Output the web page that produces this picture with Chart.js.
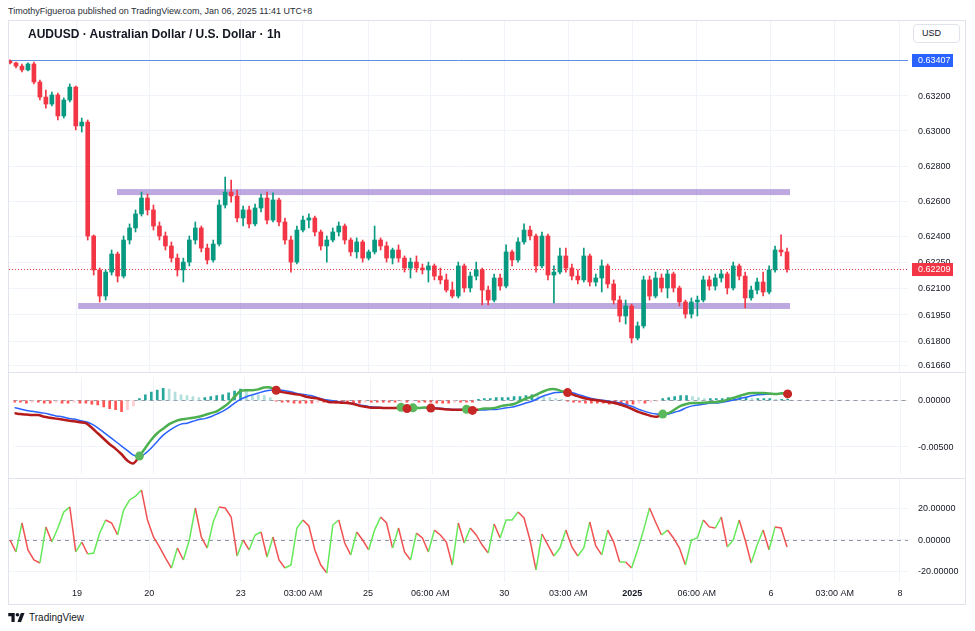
<!DOCTYPE html>
<html>
<head>
<meta charset="utf-8">
<title>AUDUSD 1h</title>
<script src="https://cdn.jsdelivr.net/npm/chart.js@4.4.1/dist/chart.umd.min.js"></script>
<style>
html,body{margin:0;padding:0;background:#fff;}
body{width:975px;height:631px;position:relative;overflow:hidden;font-family:"Liberation Sans",Arial,sans-serif;color:#131722;}
#hdr{position:absolute;left:8px;top:6px;font-size:9px;color:#2a2e39;white-space:nowrap;}
#frame{position:absolute;left:8px;top:20px;width:958px;height:585px;border:1px solid #e0e3eb;box-sizing:border-box;}
.sep{position:absolute;left:9px;width:956px;height:1px;background:#e0e3eb;}
canvas{position:absolute;left:9px;}
#title{position:absolute;left:28px;top:27px;font-size:12px;font-weight:bold;white-space:nowrap;z-index:2;color:#131722;}
#usd{position:absolute;left:913px;top:24px;width:47px;height:19px;border:1px solid #e0e3eb;border-radius:4px;box-sizing:border-box;font-size:9px;line-height:17px;padding-left:8px;z-index:2;background:#fff;}
#logo{position:absolute;left:8px;top:610px;height:14px;display:flex;align-items:center;font-size:10px;color:#131722;}
#logo svg{margin-right:4px;}
</style>
</head>
<body>
<div id="hdr">TimothyFigueroa published on TradingView.com, Jan 06, 2025 11:41 UTC+8</div>
<div id="frame"></div>
<canvas id="cMain" width="956" height="351" style="top:21px"></canvas>
<div class="sep" style="top:372px"></div>
<canvas id="cMacd" width="956" height="105" style="top:373px"></canvas>
<div class="sep" style="top:478px"></div>
<canvas id="cOsc" width="956" height="125" style="top:479px"></canvas>
<div id="title">AUDUSD · Australian Dollar / U.S. Dollar · 1h</div>
<div id="usd">USD</div>
<div id="logo"><svg width="17" height="11" viewBox="0 0 36 24"><path d="M14 22H7V9H0V2h14v20zM28 22h-8l7.5-20h8L28 22z" fill="#131722"/><circle cx="20" cy="6" r="4" fill="#131722"/></svg>TradingView</div>
<script>
// ---------- price candles (one per bar) ----------
const opens = [0.63400,0.63389,0.63371,0.63349,0.63383,0.63280,0.63194,0.63154,0.63206,0.63086,
0.63177,0.63251,0.63029,0.63051,0.62400,0.62206,0.62057,0.62194,0.62297,0.62171,
0.62377,0.62446,0.62526,0.62617,0.62549,0.62457,0.62400,0.62343,0.62274,0.62206,
0.62251,0.62377,0.62446,0.62331,0.62263,0.62354,0.62577,0.62651,0.62629,0.62503,
0.62549,0.62469,0.62560,0.62617,0.62491,0.62606,0.62480,0.62377,0.62251,0.62434,
0.62491,0.62503,0.62423,0.62343,0.62377,0.62423,0.62457,0.62377,0.62309,0.62366,
0.62274,0.62309,0.62377,0.62343,0.62274,0.62320,0.62274,0.62217,0.62251,0.62217,
0.62206,0.62229,0.62171,0.62149,0.62091,0.62057,0.62229,0.62103,0.62171,0.62206,
0.62091,0.62034,0.62160,0.62114,0.62309,0.62263,0.62366,0.62434,0.62400,0.62229,
0.62400,0.62177,0.62194,0.62286,0.62217,0.62171,0.62149,0.62286,0.62137,0.62160,
0.62229,0.62126,0.62034,0.61943,0.62000,0.61817,0.61886,0.62149,0.62057,0.62160,
0.62103,0.62183,0.62103,0.62023,0.61954,0.62023,0.62034,0.62149,0.62114,0.62160,
0.62183,0.62103,0.62229,0.62171,0.62046,0.62091,0.62137,0.62080,0.62206,0.62320,
0.62309];
const highs = [0.63407,0.63394,0.63383,0.63389,0.63394,0.63291,0.63234,0.63223,0.63217,0.63189,
0.63269,0.63257,0.63074,0.63063,0.62406,0.62217,0.62206,0.62320,0.62309,0.62400,
0.62469,0.62549,0.62651,0.62640,0.62577,0.62480,0.62423,0.62366,0.62297,0.62274,
0.62400,0.62480,0.62457,0.62354,0.62377,0.62606,0.62737,0.62720,0.62663,0.62571,
0.62571,0.62583,0.62640,0.62651,0.62646,0.62617,0.62503,0.62400,0.62457,0.62514,
0.62526,0.62514,0.62434,0.62400,0.62446,0.62480,0.62469,0.62389,0.62389,0.62377,
0.62320,0.62457,0.62389,0.62366,0.62331,0.62349,0.62286,0.62274,0.62286,0.62240,
0.62251,0.62240,0.62217,0.62183,0.62137,0.62251,0.62240,0.62194,0.62251,0.62217,
0.62114,0.62183,0.62183,0.62349,0.62320,0.62389,0.62469,0.62457,0.62411,0.62423,
0.62411,0.62229,0.62331,0.62331,0.62240,0.62206,0.62331,0.62297,0.62183,0.62263,
0.62240,0.62149,0.62057,0.62034,0.62011,0.61909,0.62171,0.62171,0.62194,0.62183,
0.62206,0.62194,0.62114,0.62034,0.62046,0.62057,0.62171,0.62171,0.62183,0.62206,
0.62194,0.62251,0.62240,0.62194,0.62114,0.62160,0.62194,0.62229,0.62343,0.62406,
0.62331];
const lows = [0.63383,0.63360,0.63337,0.63343,0.63269,0.63177,0.63131,0.63143,0.63063,0.63074,
0.63166,0.63006,0.62994,0.62377,0.62177,0.62023,0.62034,0.62177,0.62137,0.62160,
0.62354,0.62423,0.62514,0.62520,0.62434,0.62377,0.62320,0.62251,0.62171,0.62137,
0.62229,0.62354,0.62309,0.62240,0.62251,0.62343,0.62560,0.62594,0.62480,0.62457,
0.62446,0.62457,0.62537,0.62469,0.62480,0.62457,0.62354,0.62194,0.62240,0.62423,
0.62446,0.62400,0.62320,0.62251,0.62366,0.62400,0.62354,0.62286,0.62274,0.62251,
0.62263,0.62297,0.62320,0.62251,0.62240,0.62251,0.62194,0.62160,0.62194,0.62183,
0.62137,0.62149,0.62126,0.62080,0.62046,0.62046,0.62080,0.62080,0.62149,0.62006,
0.62006,0.62023,0.62091,0.62103,0.62229,0.62251,0.62354,0.62377,0.62194,0.62217,
0.62149,0.62017,0.62183,0.62194,0.62149,0.62126,0.62137,0.62114,0.62114,0.62080,
0.62103,0.62011,0.61909,0.61897,0.61789,0.61806,0.61874,0.62034,0.62046,0.62080,
0.62046,0.62080,0.62000,0.61931,0.61931,0.61943,0.62023,0.62091,0.62091,0.62137,
0.62069,0.62091,0.62149,0.61989,0.62034,0.62069,0.62057,0.62069,0.62194,0.62286,
0.62194];
const closes = [0.63389,0.63371,0.63349,0.63383,0.63280,0.63194,0.63154,0.63206,0.63086,0.63177,
0.63251,0.63029,0.63051,0.62400,0.62206,0.62057,0.62194,0.62297,0.62171,0.62377,
0.62446,0.62526,0.62617,0.62549,0.62457,0.62400,0.62343,0.62274,0.62206,0.62251,
0.62377,0.62446,0.62331,0.62263,0.62354,0.62577,0.62651,0.62629,0.62503,0.62549,
0.62469,0.62560,0.62617,0.62491,0.62606,0.62480,0.62377,0.62251,0.62434,0.62491,
0.62503,0.62423,0.62343,0.62377,0.62423,0.62457,0.62377,0.62309,0.62366,0.62274,
0.62309,0.62377,0.62343,0.62274,0.62320,0.62274,0.62217,0.62251,0.62217,0.62206,
0.62229,0.62171,0.62149,0.62091,0.62057,0.62229,0.62103,0.62171,0.62206,0.62091,
0.62034,0.62160,0.62114,0.62309,0.62263,0.62366,0.62434,0.62400,0.62229,0.62400,
0.62177,0.62194,0.62286,0.62217,0.62171,0.62149,0.62286,0.62137,0.62160,0.62229,
0.62126,0.62034,0.61943,0.62000,0.61817,0.61886,0.62149,0.62057,0.62160,0.62103,
0.62183,0.62103,0.62023,0.61954,0.62023,0.62034,0.62149,0.62114,0.62160,0.62183,
0.62103,0.62229,0.62171,0.62046,0.62091,0.62137,0.62080,0.62206,0.62320,0.62309,
0.62209];

// ---------- MACD pane ----------
const macdLine = [-0.00137,-0.00147,-0.00152,-0.00157,-0.00157,-0.00176,-0.00186,-0.00196,-0.00206,-0.00216,
-0.00225,-0.00235,-0.00245,-0.00294,-0.00353,-0.00412,-0.00471,-0.00520,-0.00578,-0.00647,
-0.00676,-0.00598,-0.00510,-0.00422,-0.00353,-0.00304,-0.00255,-0.00225,-0.00206,-0.00196,
-0.00186,-0.00176,-0.00157,-0.00137,-0.00118,-0.00078,-0.00029,0.00039,0.00098,0.00108,
0.00108,0.00118,0.00137,0.00137,0.00108,0.00088,0.00078,0.00069,0.00059,0.00039,
0.00029,0.00020,0.00000,-0.00020,-0.00020,-0.00025,-0.00029,-0.00039,-0.00059,-0.00069,
-0.00078,-0.00078,-0.00081,-0.00081,-0.00082,-0.00075,-0.00088,-0.00080,-0.00081,-0.00076,
-0.00083,-0.00088,-0.00093,-0.00098,-0.00101,-0.00101,-0.00096,-0.00108,-0.00098,-0.00088,
-0.00088,-0.00078,-0.00059,-0.00049,-0.00039,-0.00010,0.00020,0.00039,0.00069,0.00098,
0.00118,0.00118,0.00098,0.00083,0.00059,0.00039,0.00020,0.00010,0.00000,-0.00010,
-0.00020,-0.00029,-0.00049,-0.00069,-0.00098,-0.00127,-0.00147,-0.00167,-0.00176,-0.00147,
-0.00137,-0.00098,-0.00059,-0.00039,-0.00029,-0.00029,-0.00025,-0.00020,-0.00020,-0.00010,
0.00010,0.00029,0.00049,0.00069,0.00078,0.00078,0.00078,0.00074,0.00069,0.00075,
0.00069];
const signalLine = [-0.00078,-0.00093,-0.00108,-0.00118,-0.00127,-0.00137,-0.00152,-0.00167,-0.00176,-0.00191,
-0.00201,-0.00216,-0.00230,-0.00255,-0.00294,-0.00343,-0.00392,-0.00441,-0.00490,-0.00539,
-0.00588,-0.00608,-0.00569,-0.00510,-0.00441,-0.00373,-0.00324,-0.00284,-0.00255,-0.00245,
-0.00225,-0.00206,-0.00196,-0.00176,-0.00147,-0.00118,-0.00078,-0.00029,0.00010,0.00039,
0.00059,0.00078,0.00098,0.00108,0.00113,0.00108,0.00098,0.00083,0.00069,0.00059,
0.00049,0.00029,0.00010,0.00000,-0.00010,-0.00020,-0.00025,-0.00034,-0.00049,-0.00059,
-0.00069,-0.00074,-0.00078,-0.00078,-0.00078,-0.00078,-0.00083,-0.00083,-0.00083,-0.00078,
-0.00078,-0.00083,-0.00088,-0.00093,-0.00098,-0.00098,-0.00098,-0.00103,-0.00103,-0.00103,
-0.00098,-0.00098,-0.00088,-0.00078,-0.00069,-0.00049,-0.00029,-0.00010,0.00020,0.00049,
0.00069,0.00083,0.00088,0.00088,0.00078,0.00059,0.00039,0.00020,0.00010,0.00000,
-0.00010,-0.00020,-0.00029,-0.00049,-0.00069,-0.00098,-0.00118,-0.00137,-0.00147,-0.00152,
-0.00147,-0.00127,-0.00108,-0.00078,-0.00059,-0.00049,-0.00039,-0.00029,-0.00029,-0.00020,
-0.00010,0.00005,0.00020,0.00034,0.00049,0.00059,0.00064,0.00069,0.00067,0.00073,
0.00078];
const macdHist = [-0.0002,-0.0002,-0.0003,-0.0002,-0.0002,-0.0003,-0.0003,-0.0002,-0.0003,-0.0003,
-0.0002,-0.0003,-0.0003,-0.0004,-0.0005,-0.0007,-0.0009,-0.0010,-0.0012,-0.0010,
-0.0006,0.0002,0.0006,0.0009,0.0011,0.0013,0.0012,0.0009,0.0006,0.0005,
0.0004,0.0003,0.0003,0.0004,0.0005,0.0006,0.0008,0.0010,0.0012,0.0010,
0.0007,0.0006,0.0005,0.0003,-0.0001,-0.0002,-0.0002,-0.0003,-0.0003,-0.0003,
-0.0003,-0.0002,-0.0002,-0.0002,-0.0003,-0.0003,-0.0003,-0.0003,-0.0003,-0.0002,
-0.0002,-0.0002,-0.0002,-0.0002,-0.0002,-0.0001,-0.0002,-0.0001,-0.0002,-0.0002,
-0.0002,-0.0003,-0.0003,-0.0003,-0.0002,-0.0002,-0.0002,-0.0002,0.0001,0.0002,
0.0002,0.0003,0.0003,0.0003,0.0004,0.0004,0.0005,0.0006,0.0005,0.0004,
0.0003,0.0002,0.0001,-0.0001,-0.0002,-0.0002,-0.0003,-0.0003,-0.0003,-0.0003,
-0.0004,-0.0004,-0.0004,-0.0004,-0.0004,-0.0003,-0.0003,-0.0002,-0.0001,0.0002,
0.0003,0.0004,0.0005,0.0005,0.0004,0.0003,0.0002,0.0002,0.0002,0.0002,
0.0003,0.0003,0.0003,0.0003,0.0002,0.0002,0.0002,0.0002,0.0001,0.0001,
0.0001];
const crossUp = [21, 65, 67, 76, 109];
const crossDown = [44, 66, 70, 77, 93, 130];

// ---------- oscillator pane ----------
const oscValues = [0,-7.6,10.8,-6.3,-12.7,-14.6,8.3,-1.3,7.6,17.8,
21.0,-7.6,-1.3,-8.9,-8.3,4.4,12.7,10.8,3.2,19.0,
25.4,27.9,31.7,12.7,1.9,-4.4,-11.4,-17.8,-5.1,-12.7,
0,20.3,1.9,-5.1,11.4,21.0,20.3,14.6,-10.2,0,
-6.3,3.2,5.1,-10.8,1.9,-12.7,-17.8,-15.9,7.6,12.7,
8.9,-6.3,-15.9,-21.0,9.5,12.7,-1.9,-9.5,5.1,0,
-6.3,6.3,14.6,10.8,-5.1,7.6,-7.6,-12.7,4.4,1.3,
-7.6,6.3,3.2,-1.3,-15.9,10.8,-1.9,7.6,3.2,-3.2,
-8.3,10.2,1.3,12.7,12.7,17.8,14.0,0,-19.0,3.8,
-3.2,-10.2,-5.1,6.3,-4.4,-10.2,-5.1,11.4,-3.8,-9.5,
6.3,-1.3,-14.0,-14.0,-17.8,-6.3,6.3,20.3,11.4,3.2,
6.3,1.3,-5.1,-15.9,0,1.3,12.7,8.3,7.6,14.6,
-4.4,0,12.7,0,-14.6,-3.2,6.3,-6.3,8.3,7.6,
-4.4];

// ---------- axes, levels, drawings ----------
const priceTicks = [0.6166, 0.618, 0.6195, 0.621, 0.6225, 0.624, 0.626, 0.628, 0.630, 0.632];
const macdTicks = [-0.005, 0];
const oscTicks = [-20, 0, 20];
const timeTickLabels = ['19','20','23','03:00 AM','25','06:00 AM','30','03:00 AM','2025','06:00 AM','6','03:00 AM','8'];
const timeTickAt = [11.2, 23.3, 38.6, 49.0, 59.9, 70.3, 82.7, 93.4, 104.1, 114.9, 127.3, 138.0, 148.9];
const priceLevel = 0.63407;
const bandLevels = [0.62651, 0.62000];
const bandStart = [17.9, 11.4];
const bandEnd = [130.5, 130.5];

// ---------- rendering ----------
const N = closes.length;
const idx = closes.map((_, i) => i);
const X_MIN = -0.17, X_MAX = 150.24;
const AXIS_W = 57;
const GRID = '#f0f3fa';
const FONT = '"Liberation Sans", Arial, sans-serif';
const UP = '#089981', DOWN = '#f23645';

function xScale(showTicks) {
  return {
    type: 'linear', min: X_MIN, max: X_MAX, position: 'bottom', bounds: 'data', offset: false,
    afterBuildTicks: s => { s.ticks = timeTickAt.map(v => ({ value: v })); },
    afterFit: s => { s.height = showTicks ? 22 : 0; },
    grid: { color: GRID, drawTicks: false, offset: false },
    border: { display: false },
    ticks: {
      display: showTicks, autoSkip: false, maxRotation: 0, minRotation: 0, padding: 6, color: '#131722',
      font: c => ({ family: FONT, size: 9, weight: timeTickLabels[c.index] === '2025' ? 'bold' : 'normal' }),
      callback: (v, i) => timeTickLabels[i]
    }
  };
}
function yScale(min, max, ticks) {
  return {
    type: 'linear', position: 'right', min, max, bounds: 'data',
    afterBuildTicks: s => { s.ticks = ticks.map(v => ({ value: v })); },
    afterFit: s => { s.width = AXIS_W; },
    grid: { color: GRID, drawTicks: false },
    border: { display: false },
    ticks: { display: false }
  };
}
// price-scale labels drawn at the scale's own tick positions
const yLabels = {
  id: 'yLabels',
  afterDraw(chart) {
    const { ctx, chartArea: a, scales: { y } } = chart;
    ctx.save();
    ctx.fillStyle = '#131722';
    ctx.font = '9px ' + FONT;
    ctx.textBaseline = 'middle'; ctx.textAlign = 'left';
    y.ticks.forEach(t => ctx.fillText(Number(t.value).toFixed(5), a.right + 10, y.getPixelForValue(t.value) + 0.5));
    ctx.restore();
  }
};
const baseOpts = {
  responsive: false, animation: false, devicePixelRatio: 1, events: [],
  layout: { padding: 0 },
  plugins: { legend: { display: false }, tooltip: { enabled: false } }
};

const mainDecor = {
  id: 'mainDecor',
  beforeDatasetsDraw(chart) {
    const { ctx, chartArea: a, scales: { x, y } } = chart;
    ctx.save();
    ctx.fillStyle = 'rgba(149,117,205,0.62)';
    bandLevels.forEach((lv, k) => {
      const yy = y.getPixelForValue(lv);
      const x0 = x.getPixelForValue(bandStart[k]), x1 = x.getPixelForValue(bandEnd[k]);
      ctx.fillRect(x0, yy - 3, x1 - x0, 6);
    });
    ctx.lineWidth = 1;
    const yb = Math.round(y.getPixelForValue(priceLevel)) + 0.5;
    ctx.strokeStyle = '#5b8fe0';
    ctx.beginPath(); ctx.moveTo(a.left, yb); ctx.lineTo(a.right, yb); ctx.stroke();
    const yr = Math.round(y.getPixelForValue(closes[N - 1])) + 0.5;
    ctx.strokeStyle = '#f23645'; ctx.setLineDash([1, 2]);
    ctx.beginPath(); ctx.moveTo(a.left, yr); ctx.lineTo(a.right, yr); ctx.stroke();
    ctx.restore();
  },
  afterDraw(chart) {
    const { ctx, chartArea: a, scales: { y } } = chart;
    const tag = (v, col) => {
      const yy = Math.round(y.getPixelForValue(v));
      ctx.fillStyle = col;
      ctx.fillRect(a.right + 4, yy - 6, 41, 13);
      ctx.fillStyle = '#fff';
      ctx.font = '9px ' + FONT;
      ctx.textBaseline = 'middle'; ctx.textAlign = 'left';
      ctx.fillText(v.toFixed(5), a.right + 10, yy + 0.5);
    };
    ctx.save();
    tag(priceLevel, '#2962ff');
    tag(closes[N - 1], '#f23645');
    ctx.restore();
  }
};
const zeroLine = {
  id: 'zeroLine',
  beforeDatasetsDraw(chart) {
    const { ctx, chartArea: a, scales: { y } } = chart;
    const yy = Math.round(y.getPixelForValue(0)) + 0.5;
    ctx.save();
    ctx.strokeStyle = '#9598a1'; ctx.lineWidth = 1; ctx.setLineDash([4, 4]);
    ctx.beginPath(); ctx.moveTo(a.left, yy); ctx.lineTo(a.right, yy); ctx.stroke();
    ctx.restore();
  }
};

const candleColor = c => closes[c.dataIndex] >= opens[c.dataIndex] ? UP : DOWN;
new Chart(document.getElementById('cMain'), {
  type: 'bar',
  data: {
    datasets: [
      { data: idx.map(i => ({ x: i, y: [lows[i], highs[i]] })), backgroundColor: candleColor,
        barThickness: 1, grouped: false, order: 2 },
      { data: idx.map(i => ({ x: i, y: [opens[i], closes[i]] })), backgroundColor: candleColor,
        barThickness: 4, minBarLength: 1, grouped: false, order: 1 }
    ]
  },
  options: Object.assign({}, baseOpts, {
    scales: { x: xScale(false), y: yScale(0.6162286, 0.6362857, priceTicks) }
  }),
  plugins: [yLabels, mainDecor]
});

const histColor = c => {
  const i = c.dataIndex, v = macdHist[i], p = i > 0 ? macdHist[i - 1] : v;
  if (v >= 0) return v >= p ? '#26a69a' : '#b2dfdb';
  return v <= p ? '#ff5252' : '#ffcdd2';
};
new Chart(document.getElementById('cMacd'), {
  type: 'bar',
  data: {
    datasets: [
      { type: 'bar', data: idx.map(i => ({ x: i, y: macdHist[i] })), backgroundColor: histColor,
        barThickness: 2, grouped: false, order: 4 },
      { type: 'line', data: idx.map(i => ({ x: i, y: signalLine[i] })), borderColor: '#2962ff',
        borderWidth: 1.5, pointRadius: 0, tension: 0.3, order: 3 },
      { type: 'line', data: idx.map(i => ({ x: i, y: macdLine[i] })), borderColor: '#4caf50',
        borderWidth: 2.5, pointRadius: 0, tension: 0.3, order: 2,
        segment: { borderColor: c => macdLine[c.p0DataIndex] >= signalLine[c.p0DataIndex] ? '#4caf50' : '#b71c1c' } },
      { type: 'line', showLine: false, data: crossUp.map(i => ({ x: i, y: macdLine[i] })),
        pointRadius: 4.5, pointBackgroundColor: '#5cb85c', pointBorderWidth: 0, order: 1 },
      { type: 'line', showLine: false, data: crossDown.map(i => ({ x: i, y: macdLine[i] })),
        pointRadius: 4.5, pointBackgroundColor: '#c62828', pointBorderWidth: 0, order: 0 }
    ]
  },
  options: Object.assign({}, baseOpts, {
    scales: { x: xScale(false), y: yScale(-0.00784314, 0.00245098, macdTicks) }
  }),
  plugins: [zeroLine, yLabels]
});

new Chart(document.getElementById('cOsc'), {
  type: 'line',
  data: {
    datasets: [
      { data: idx.map(i => ({ x: i, y: oscValues[i] })), borderColor: '#66e85a', borderWidth: 1.5,
        pointRadius: 0, tension: 0,
        segment: { borderColor: c => c.p1.parsed.y >= c.p0.parsed.y ? '#66e85a' : '#f05252' } }
    ]
  },
  options: Object.assign({}, baseOpts, {
    scales: { x: xScale(true), y: yScale(-26.67, 38.73, oscTicks) }
  }),
  plugins: [zeroLine, yLabels]
});
</script>
</body>
</html>
